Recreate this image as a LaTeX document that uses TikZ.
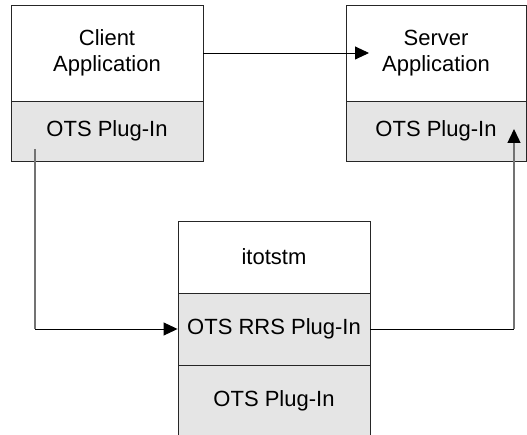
\documentclass[tikz,border=0pt]{standalone}
\usepackage{fontspec}
\setmainfont{Liberation Sans}
\usetikzlibrary{arrows.meta}
\begin{document}
\begin{tikzpicture}[x=1pt,y=-1pt,
  box/.style={draw=black!85,line width=0.9pt,fill=white,inner sep=0pt,
    font=\fontsize{22}{26}\selectfont,align=center},
  plug/.style={box,fill=gray!20},
  conn/.style={draw=black!55,line width=1.4pt},
  tip/.style={-{Triangle[length=14pt,width=13pt,color=black]}},
  thin/.style={draw=black,line width=0.9pt}]
\useasboundingbox (0,0) rectangle (527,435);
\begin{scope}
\clip (0,0) rectangle (527,435);
% Client
\node[box,minimum width=192pt,minimum height=96pt] (ctop) at (107,53) {Client\\Application};
\node[plug,minimum width=192pt,minimum height=60pt] (cplug) at (107,131) {OTS Plug-In};
% Server
\node[box,minimum width=180pt,minimum height=96pt] (stop) at (436,53) {Server\\Application};
\node[plug,minimum width=180pt,minimum height=60pt] (splug) at (436,131) {OTS Plug-In};
% itotstm
\node[box,minimum width=192pt,minimum height=72pt] (itm) at (274,257) {itotstm};
\node[plug,minimum width=192pt,minimum height=72pt] (rrs) at (274,329) {OTS RRS Plug-In};
\node[plug,minimum width=192pt,minimum height=72pt] (otsb) at (274,401) {OTS Plug-In};
\end{scope}
% connectors
\coordinate (stip) at (369,53);
\coordinate (cstart) at (35,149);
\coordinate (cbend) at (35,329);
\coordinate (sbend) at (514,329);
\coordinate (sstip) at (514,129);
\draw[thin,tip] (ctop.east) -- (stip);
\draw[conn] (cstart) -- (cbend);
\draw[thin,tip] (cbend) -- (rrs.west);
\draw[thin] (rrs.east) -- (sbend);
\draw[conn,tip] (sbend) -- (sstip);
\end{tikzpicture}
\end{document}
